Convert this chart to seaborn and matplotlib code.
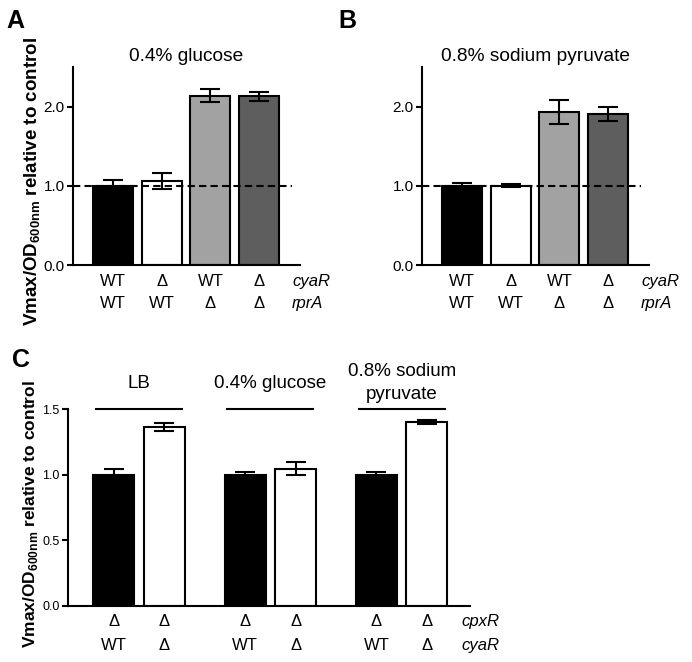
import numpy as np
import pandas as pd
import matplotlib
matplotlib.use("Agg")
import matplotlib.pyplot as plt
from matplotlib import font_manager
import seaborn as sns

# panels A/B: cyaR x rprA strains
cyaR_ab = ["WT", "Δ", "WT", "Δ"]
rprA_ab = ["WT", "WT", "Δ", "Δ"]
glucose_mean = [1.00, 1.06, 2.14, 2.13]
glucose_err = [0.07, 0.10, 0.08, 0.06]
pyruvate_mean = [1.00, 1.00, 1.93, 1.91]
pyruvate_err = [0.03, 0.02, 0.15, 0.09]
colors_ab = ["#000000", "#ffffff", "#a2a2a2", "#5e5e5e"]

# panel C: cpxR deleted background, cyaR WT vs deleted, three media
media_c = ["LB", "0.4% glucose", "0.8% sodium\npyruvate"]
cpxR_c = ["Δ", "Δ"]
cyaR_c = ["WT", "Δ"]
c_mean = [[1.00, 1.36], [1.00, 1.045], [1.00, 1.40]]
c_err = [[0.04, 0.03], [0.02, 0.05], [0.02, 0.015]]
colors_c = ["#000000", "#ffffff"]

sns.set_style("ticks")
plt.rcParams["font.family"] = ["Liberation Sans", "DejaVu Sans"]
plt.rcParams["mathtext.fontset"] = "custom"
plt.rcParams["mathtext.rm"] = "Liberation Sans"
plt.rcParams["mathtext.bf"] = "Liberation Sans:bold"
for key in ("text.color", "axes.edgecolor", "axes.labelcolor", "xtick.color", "ytick.color"):
    plt.rcParams[key] = "black"

installed = {f.name for f in font_manager.fontManager.ttflist}
NARROW = "Liberation Sans Narrow" if "Liberation Sans Narrow" in installed else "Liberation Sans"

YLABEL = r"Vmax/OD$_\mathbf{600nm}$ relative to control"
LW = 1.5


def style_axes(ax, ytick_size, pad, spacing):
    sns.despine(ax=ax)
    for s in ("left", "bottom"):
        ax.spines[s].set_linewidth(LW)
        ax.spines[s].set_color("black")
    ax.tick_params(axis="x", length=0, pad=pad, labelsize=12, colors="black")
    ax.tick_params(axis="y", length=4, width=LW, pad=2, labelsize=ytick_size, colors="black")
    ax.set_xlabel("")
    ax.set_ylabel("")
    for t in ax.get_xticklabels():
        t.set_linespacing(spacing)


def panel_ab(ax, title, means, errs):
    labels = [f"{c}\n{r}" for c, r in zip(cyaR_ab, rprA_ab)]
    df = pd.DataFrame({"strain": labels, "value": means})
    sns.barplot(data=df, x="strain", y="value", hue="strain", palette=colors_ab,
                legend=False, edgecolor="black", linewidth=LW, width=0.82,
                errorbar=None, ax=ax)
    ax.errorbar(np.arange(len(means)), means, yerr=errs, fmt="none", ecolor="black",
                elinewidth=LW, capsize=7, capthick=LW, zorder=5)
    ax.axhline(1.0, xmax=0.965, color="black", ls=(0, (3.5, 2)), lw=LW, zorder=6)
    ax.set_ylim(0, 2.5)
    ax.set_yticks([0, 1, 2])
    ax.set_yticklabels(["0.0", "1.0", "2.0"])
    ax.set_xlim(-0.82, 3.84)
    style_axes(ax, 11, 6.5, 1.6)
    ax.annotate("cyaR\nrprA", xy=(0.965, 0), xycoords="axes fraction", xytext=(0, -6.5),
                textcoords="offset points", ha="left", va="top", style="italic",
                fontsize=12, linespacing=1.6)
    ax.set_title(title, fontsize=13.75, pad=4)


fig = plt.figure(figsize=(6.92, 6.62), dpi=100)
W, H = 692, 662


def px_axes(left, top, right, bottom):
    return fig.add_axes([left / W, 1 - bottom / H, (right - left) / W, (bottom - top) / H])


ax_a = px_axes(73, 67, 300, 265)
panel_ab(ax_a, "0.4% glucose", glucose_mean, glucose_err)
ax_b = px_axes(422, 67, 649, 265)
panel_ab(ax_b, "0.8% sodium pyruvate", pyruvate_mean, pyruvate_err)

# panel C
ax_c = px_axes(68, 409, 470, 606)
rows = []
for m, means in zip(media_c, c_mean):
    for cy, v in zip(cyaR_c, means):
        rows.append({"medium": m, "cyaR": cy, "value": v})
df_c = pd.DataFrame(rows)
sns.barplot(data=df_c, x="medium", y="value", hue="cyaR", palette=colors_c,
            width=0.77, gap=0.19, edgecolor="black", linewidth=LW,
            errorbar=None, legend=False, ax=ax_c)
centers = sorted(p.get_x() + p.get_width() / 2 for p in ax_c.patches)
flat_mean = [v for g in c_mean for v in g]
flat_err = [v for g in c_err for v in g]
ax_c.errorbar(centers, flat_mean, yerr=flat_err, fmt="none", ecolor="black",
              elinewidth=LW, capsize=7, capthick=LW, zorder=5)
ax_c.set_xticks(centers)
ax_c.set_xticklabels([f"{p}\n{c}" for _ in media_c for p, c in zip(cpxR_c, cyaR_c)])
ax_c.set_xlim(-0.54, 2.52)
ax_c.set_ylim(0, 1.5)
ax_c.set_yticks([0, 0.5, 1.0, 1.5])
ax_c.set_yticklabels(["0.0", "0.5", "1.0", "1.5"])
style_axes(ax_c, 9, 6, 1.7)
for t in ax_c.get_yticklabels():
    t.set_family(NARROW)
ax_c.annotate("cpxR\ncyaR", xy=(0.979, 0), xycoords="axes fraction", xytext=(0, -6),
              textcoords="offset points", ha="left", va="top", style="italic",
              fontsize=12, linespacing=1.7)
title_offsets = [12.5, 12.5, 4]
for g, (m, off) in enumerate(zip(media_c, title_offsets)):
    ax_c.hlines(1.5, g - 0.335, g + 0.335, color="black", lw=LW, clip_on=False)
    ax_c.annotate(m, xy=(g, 1.5), xytext=(0, off), textcoords="offset points",
                  ha="center", va="bottom", fontsize=13.5, linespacing=1.5)

# y labels and panel letters
fig.text(33 / W, 1 - 182 / H, YLABEL, rotation=90, ha="center", va="center",
         fontsize=13.5, fontweight="bold")
fig.text(31 / W, 1 - 514 / H, YLABEL, rotation=90, ha="center", va="center",
         fontsize=12.5, fontweight="bold")
for letter, x, y in (("A", 15, 21), ("B", 347, 21), ("C", 21, 360)):
    fig.text(x / W, 1 - y / H, letter, ha="center", va="center", fontsize=18,
             fontweight="bold")

fig.savefig("out.png", dpi=100)
